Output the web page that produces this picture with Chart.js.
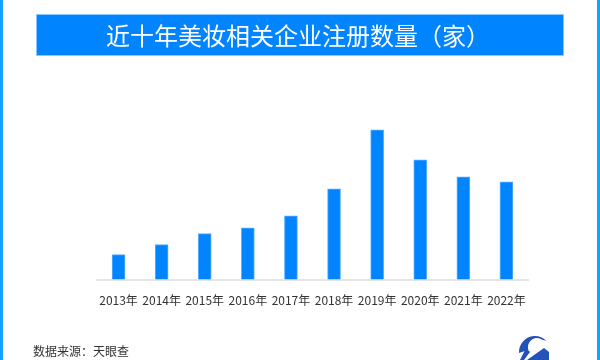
<!DOCTYPE html>
<html>
<head>
<meta charset="utf-8">
<script src="https://cdn.jsdelivr.net/npm/chart.js@4.4.0/dist/chart.umd.min.js"></script>
<style>
  html, body { margin: 0; padding: 0; background: #fff; }
  #wrap { width: 600px; height: 360px; position: relative; }
</style>
</head>
<body>
<div id="wrap"><canvas id="beautyChart" width="600" height="360"></canvas></div>
<script>
const years = ['2013年', '2014年', '2015年', '2016年', '2017年', '2018年', '2019年', '2020年', '2021年', '2022年'];
// (relative heights)
const registrations = [2.5, 3.5, 4.6, 5.2, 6.4, 9.1, 15.0, 12.0, 10.3, 9.8];
const yMax = 18;

const titleText = '近十年美妆相关企业注册数量（家）';
const sourceText = '数据来源：天眼查';
const font = '"Noto Sans CJK SC", "Noto Sans", sans-serif';

const decor = {
  id: 'decor',
  beforeDraw(chart) {
    const c = chart.ctx;
    c.save();
    c.fillStyle = '#fff';
    c.fillRect(0, 0, 600, 360);
    // side borders
    c.fillStyle = '#14a0ff';
    c.fillRect(0, 0, 3, 360);
    c.fillRect(597, 0, 3, 360);
    // banner
    c.fillStyle = '#0084ff';
    c.fillRect(36, 14, 528, 42);
    c.strokeStyle = '#8cc8ff';
    c.lineWidth = 1;
    c.strokeRect(36.5, 14.5, 527, 41);
    c.fillStyle = '#fff';
    c.font = '24px ' + font;
    c.textAlign = 'center';
    c.textBaseline = 'middle';
    c.fillText(titleText, 298, 36);
    // source
    c.fillStyle = '#333';
    c.font = '12px ' + font;
    c.textAlign = 'left';
    c.fillText(sourceText, 33, 351);
    // logo
    c.fillStyle = '#2552b8';
    c.beginPath();
    c.arc(535, 352, 16, Math.PI * 0.98, Math.PI * 1.75, false);
    c.arc(537, 347, 9, Math.PI * 1.7, Math.PI * 0.9, true);
    c.closePath();
    c.fill();
    c.beginPath();
    c.moveTo(520, 360);
    c.lineTo(526, 348);
    c.lineTo(530, 352);
    c.lineTo(524, 360);
    c.closePath();
    c.fill();
    c.beginPath();
    c.moveTo(527, 360);
    c.lineTo(544, 348);
    c.lineTo(549, 352);
    c.lineTo(549, 360);
    c.closePath();
    c.fill();
    c.restore();
  }
};

new Chart(document.getElementById('beautyChart'), {
  type: 'bar',
  data: {
    labels: years,
    datasets: [{
      data: registrations,
      backgroundColor: '#0084ff',
      borderColor: '#5cb0ff',
      borderWidth: 1,
      barThickness: 13,
    }],
  },
  options: {
    responsive: false,
    animation: false,
    layout: { padding: { left: 97, right: 72, top: 100, bottom: 46 } },
    scales: {
      y: { display: false, min: 0, max: yMax },
      x: {
        grid: { display: false },
        border: { color: '#e6e6e6', width: 2 },
        ticks: { color: '#333', font: { size: 12, family: font }, padding: 6, maxRotation: 0, autoSkip: false },
      },
    },
    plugins: { legend: { display: false }, tooltip: { enabled: false } },
  },
  plugins: [decor],
});
</script>
</body>
</html>
